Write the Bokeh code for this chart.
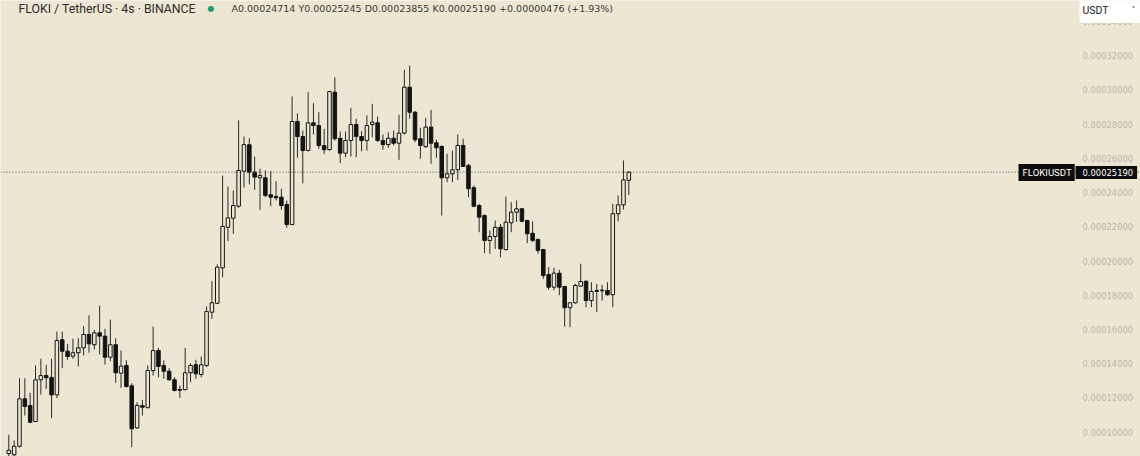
from bokeh.plotting import figure
from bokeh.models import Range1d, FixedTicker, PrintfTickFormatter, Span, Label, ColumnDataSource
from bokeh.embed import file_html
from bokeh.resources import INLINE

# ---- data (prices in units of 1e-5 USDT) ----
SCALE = 1e-5
opens = [8.75, 8.68, 9.18, 11.95, 11.56, 10.62, 13.06, 13.31, 13.20, 12.18,
         15.40, 14.73, 14.44, 14.64, 14.93, 15.71, 15.11, 15.81, 15.61, 14.38,
         15.11, 13.45, 13.90, 12.71, 10.25, 11.56, 11.43, 13.60, 14.77, 13.90,
         13.56, 13.06, 12.50, 12.48, 13.47, 13.94, 13.37, 13.90, 17.01, 17.53,
         19.60, 21.97, 22.50, 23.20, 25.25, 26.79, 25.19, 24.86, 24.86, 23.87,
         23.77, 23.73, 23.30, 22.13, 28.15, 27.27, 26.45, 28.07, 27.91, 26.74,
         26.50, 29.86, 27.17, 26.30, 27.04, 27.97, 27.27, 27.04, 27.97, 28.07,
         27.04, 26.80, 27.17, 26.88, 27.47, 30.15, 28.69, 27.14, 26.68, 27.82,
         26.90, 26.69, 24.86, 25.09, 25.33, 26.75, 25.58, 24.28, 23.24, 22.66,
         21.20, 21.43, 21.97, 20.67, 22.23, 22.85, 23.05, 22.37, 21.62, 21.26,
         20.67, 19.21, 18.47, 19.29, 18.51, 17.27, 17.56, 18.53, 18.82, 17.69,
         18.22, 18.26, 18.28, 18.03, 22.76, 23.28, 24.714]
highs = [9.85, 9.52, 13.15, 13.15, 12.30, 13.90, 14.29, 13.94, 14.29, 15.88,
         15.88, 15.16, 15.46, 15.49, 16.19, 16.82, 15.98, 17.40, 16.04, 16.58,
         15.49, 14.77, 14.20, 12.86, 11.75, 11.89, 13.90, 16.17, 14.93, 14.19,
         13.74, 13.21, 12.73, 14.93, 14.03, 14.23, 14.42, 17.34, 18.82, 19.80,
         24.99, 24.35, 24.12, 28.21, 27.27, 27.17, 26.10, 25.39, 25.29, 25.25,
         24.66, 24.22, 23.53, 29.61, 28.63, 27.62, 29.86, 29.22, 28.69, 27.72,
         29.92, 30.74, 27.56, 27.56, 28.95, 28.31, 27.58, 28.50, 29.18, 28.44,
         27.39, 27.52, 27.62, 28.54, 31.17, 31.42, 28.77, 27.78, 28.36, 28.83,
         27.08, 26.75, 26.26, 26.45, 27.39, 27.14, 25.68, 24.41, 23.34, 22.72,
         21.78, 22.37, 22.17, 23.77, 23.43, 23.53, 23.10, 22.40, 22.32, 21.30,
         20.71, 19.64, 19.60, 19.49, 18.55, 17.59, 18.67, 19.84, 18.86, 18.76,
         18.67, 18.61, 18.76, 23.34, 23.83, 25.87, 25.245]
lows = [8.55, 8.58, 9.10, 10.98, 10.53, 10.60, 12.20, 12.53, 10.82, 11.99,
        13.74, 14.23, 14.29, 13.84, 14.48, 14.64, 14.83, 14.54, 13.95, 14.15,
        12.89, 12.59, 12.60, 9.12, 10.20, 10.98, 11.40, 13.31, 13.21, 13.12,
        13.02, 12.38, 12.00, 12.45, 12.92, 13.12, 13.21, 13.80, 16.62, 17.50,
        19.05, 21.16, 21.59, 23.11, 24.28, 24.47, 24.16, 22.99, 23.73, 23.20,
        23.53, 22.99, 21.94, 22.10, 26.03, 24.54, 26.41, 27.39, 26.55, 26.26,
        26.45, 27.04, 25.71, 26.06, 26.10, 26.06, 26.41, 26.45, 27.23, 26.94,
        26.50, 26.61, 26.75, 25.91, 27.39, 28.31, 26.94, 25.97, 26.60, 25.68,
        26.03, 22.66, 24.60, 24.60, 24.74, 25.50, 23.73, 23.14, 21.68, 20.46,
        20.42, 20.71, 20.22, 20.61, 21.68, 22.27, 22.27, 21.04, 21.10, 20.42,
        18.96, 18.32, 18.28, 18.00, 16.17, 16.13, 17.50, 18.50, 17.30, 17.30,
        17.01, 17.69, 17.98, 17.30, 22.32, 23.01, 23.855]
closes = [8.95, 9.18, 11.95, 11.50, 10.58, 13.06, 13.31, 13.18, 12.18, 15.36,
          14.73, 14.42, 14.64, 14.93, 15.71, 15.16, 15.81, 15.61, 14.38, 15.11,
          13.47, 13.86, 12.67, 10.20, 11.56, 11.46, 13.60, 14.77, 13.84, 13.56,
          13.06, 12.44, 12.45, 13.47, 13.90, 13.41, 13.94, 17.05, 17.56, 19.64,
          22.02, 22.52, 23.24, 25.29, 26.80, 25.19, 24.90, 24.99, 23.83, 23.73,
          23.69, 23.24, 22.13, 28.15, 27.27, 26.45, 28.07, 27.91, 26.74, 26.50,
          29.90, 27.14, 26.30, 27.04, 27.97, 27.27, 27.04, 27.91, 28.11, 27.04,
          26.80, 27.17, 26.88, 27.47, 30.15, 28.69, 27.08, 26.75, 27.82, 26.88,
          26.61, 24.86, 25.09, 25.33, 26.75, 25.52, 24.22, 23.20, 22.56, 21.20,
          21.43, 21.97, 20.71, 22.27, 22.85, 23.05, 22.32, 21.59, 21.20, 20.61,
          19.15, 18.47, 19.29, 18.47, 17.27, 17.56, 18.57, 18.80, 17.69, 18.22,
          18.28, 18.30, 18.03, 22.76, 23.28, 24.74, 25.19]
ytick_values = [10, 12, 14, 16, 18, 20, 22, 24, 26, 28, 30, 32, 34]
symbol = "FLOKIUSDT"
title_text = "FLOKI / TetherUS \u00b7 4s \u00b7 BINANCE"
ohlc_text = "A0.00024714 Y0.00025245 D0.00023855 K0.00025190 +0.00000476 (+1.93%)"
currency = "USDT"
last_price = 0.00025190

# ---- styles ----
BG = "#ece6d3"
INK = "#141414"
W, H = 1140, 456
SCALE_X0 = 1075          # pixel where the price scale starts
STEP_PX = 5.345
FIRST_PX = 8.3

n = len(opens)
idx = list(range(n))
o = [v * SCALE for v in opens]
h = [v * SCALE for v in highs]
l = [v * SCALE for v in lows]
c = [v * SCALE for v in closes]

x0 = -FIRST_PX / STEP_PX
x1 = x0 + W / STEP_PX
x_axis_loc = x0 + SCALE_X0 / STEP_PX

p = figure(width=W, height=H, output_backend="svg", toolbar_location=None,
           x_range=Range1d(x0, x1), y_range=Range1d(8.581e-5, 35.216e-5),
           x_axis_location=None, y_axis_location="right",
           min_border_left=0, min_border_top=0, min_border_bottom=0,
           min_border_right=0,
           background_fill_color=BG, border_fill_color=BG,
           outline_line_color=None)
p.grid.visible = False

p.yaxis.fixed_location = x_axis_loc
p.yaxis.ticker = FixedTicker(ticks=[v * SCALE for v in ytick_values])
p.yaxis.formatter = PrintfTickFormatter(format="%.8f")
p.yaxis.axis_line_color = None
p.yaxis.major_tick_line_color = None
p.yaxis.minor_tick_line_color = None
p.yaxis.major_tick_out = 0
p.yaxis.major_tick_in = 0
p.yaxis.minor_tick_out = 0
p.yaxis.major_label_standoff = 7
p.yaxis.major_label_text_font = "DejaVu Sans"
p.yaxis.major_label_text_font_size = "8.4px"
p.yaxis.major_label_text_color = "#bab5a7"

up = [i for i in idx if c[i] >= o[i]]
dn = [i for i in idx if c[i] < o[i]]

def body(ids):
    return ColumnDataSource(dict(
        x=[i for i in ids],
        top=[max(o[i], c[i]) for i in ids],
        bottom=[min(o[i], c[i]) for i in ids],
    ))

wsrc = ColumnDataSource(dict(x=idx, lo=l, hi=h))
p.segment(x0="x", y0="lo", x1="x", y1="hi", source=wsrc, line_color="#2a2a2a", line_width=1)
p.vbar(x="x", top="top", bottom="bottom", width=0.66, source=body(up),
       fill_color=BG, line_color=INK, line_width=1)
p.vbar(x="x", top="top", bottom="bottom", width=0.66, source=body(dn),
       fill_color=INK, line_color=INK, line_width=1)

p.add_layout(Span(location=last_price, dimension="width", line_color="#4a4a4a",
                  line_dash="1 2", line_width=1))

# header
p.add_layout(Label(x=18, y=H - 8, x_units="screen", y_units="screen", text=title_text,
                   text_font="Roboto", text_font_size="12.3px", text_color="#2b2b2b",
                   text_baseline="middle"))
p.add_layout(Label(x=207, y=H - 8, x_units="screen", y_units="screen", text="\u25cf",
                   text_font="DejaVu Sans", text_font_size="8px", text_color="#1e9e78",
                   text_baseline="middle"))
p.add_layout(Label(x=231, y=H - 8, x_units="screen", y_units="screen", text=ohlc_text,
                   text_font="DejaVu Sans", text_font_size="9.5px", text_color="#3a3a3a",
                   text_baseline="middle"))

# price tags
p.add_layout(Label(x=1018, y=H - 172, x_units="screen", y_units="screen", text=symbol,
                   text_font="Roboto", text_font_size="9.6px", text_color="white",
                   text_baseline="middle", background_fill_color="#0c0c0c",
                   padding=dict(left=4, right=3, top=3, bottom=3)))
p.add_layout(Label(x=1075, y=H - 172, x_units="screen", y_units="screen",
                   text="%.8f" % last_price,
                   text_font="DejaVu Sans", text_font_size="8.4px", text_color="white",
                   text_baseline="middle", background_fill_color="#0c0c0c",
                   padding=dict(left=7, right=4, top=3, bottom=3)))

# currency selector
p.add_layout(Label(x=1079, y=H - 10, x_units="screen", y_units="screen", text=currency,
                   text_font="Roboto", text_font_size="10.5px", text_color="#222222",
                   text_baseline="middle", background_fill_color="white",
                   border_radius=3, padding=dict(left=3, right=35, top=6, bottom=6)))
p.add_layout(Label(x=1131, y=H - 10, x_units="screen", y_units="screen", text="\u02c5",
                   text_font="DejaVu Sans", text_font_size="8px", text_color="#444444",
                   text_baseline="middle"))

html = file_html(p, INLINE)
html = html.replace("<body>", '<body style="margin:0;overflow:hidden;background:%s">' % BG, 1)
open("out.html", "w").write(html)
